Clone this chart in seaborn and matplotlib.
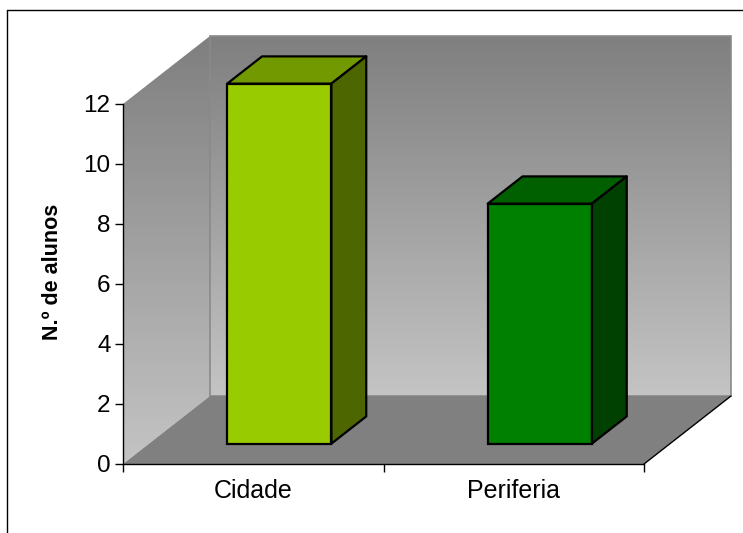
import numpy as np
import matplotlib
matplotlib.use("Agg")
import matplotlib.pyplot as plt
from matplotlib.patches import Polygon
from matplotlib.lines import Line2D
from matplotlib.colors import LinearSegmentedColormap
import seaborn as sns

# Data
categories = ["Cidade", "Periferia"]
alunos = [12, 8]
y_ticks = [0, 2, 4, 6, 8, 10, 12]
y_label = "N.º de alunos"

# Face colours (front, top, side) for each bar
front_colors = ["#99CC00", "#008000"]
top_colors = ["#739900", "#006000"]
side_colors = ["#4D6600", "#004000"]

sns.set_theme(style="white")
plt.rcParams["font.family"] = ["Liberation Sans", "DejaVu Sans"]

W, H = 743, 533
fig = plt.figure(figsize=(W / 100, H / 100), dpi=100)

# Plot area in pixels
left_px, right_px, bottom_px, top_px = 123, 740, 464, 28
px_per_x = 260.5      # pixels per category unit
px_per_y = 30.0       # pixels per value unit
ax = fig.add_axes([left_px / W, (H - bottom_px) / H,
                   (right_px - left_px) / W, (bottom_px - top_px) / H])
ax.patch.set_alpha(0)

# 3D depth vector (data units) and bar depth fractions
DX, DY = 87 / px_per_x, 68 / px_per_y
f1, f2 = 0.3, 0.7
x0, x1 = -0.5, len(categories) - 0.5
ymax = max(y_ticks)

gray_cmap = LinearSegmentedColormap.from_list("wall", ["#7f7f7f", "#c4c4c4"])
grad = np.linspace(0, 1, 256).reshape(-1, 1)

# Left wall (gradient)
lw_poly = Polygon([(x0, 0), (x0, ymax), (x0 + DX, ymax + DY), (x0 + DX, DY)],
                  closed=True, facecolor="none", edgecolor="none")
ax.add_patch(lw_poly)
im = ax.imshow(grad, cmap=gray_cmap, aspect="auto",
               extent=[x0, x0 + DX, 0, ymax + DY], origin="upper",
               zorder=0.5, interpolation="bilinear")
im.set_clip_path(lw_poly)

# Back wall (gradient)
ax.imshow(grad, cmap=gray_cmap, aspect="auto",
          extent=[x0 + DX, x1 + DX, DY, ymax + DY], origin="upper",
          zorder=0.5, interpolation="bilinear")
ax.add_patch(Polygon([(x0 + DX, DY), (x0 + DX, ymax + DY), (x1 + DX, ymax + DY),
                      (x1 + DX, DY)], closed=True, facecolor="none",
                     edgecolor="#8a8a8a", lw=1.2, zorder=0.6))

# Floor
ax.add_patch(Polygon([(x0, 0), (x1, 0), (x1 + DX, DY), (x0 + DX, DY)],
                     closed=True, facecolor="#808080", edgecolor="none", zorder=0.7))
ax.plot([x1, x1 + DX], [0, DY], color="black", lw=1.0, zorder=0.8)

# Front faces through seaborn
sns.barplot(x=categories, y=alunos, hue=categories, palette=front_colors,
            saturation=1, width=0.4, edgecolor="black", linewidth=1.6,
            legend=False, ax=ax, zorder=2)

d_x, d_y = (f2 - f1) * DX, (f2 - f1) * DY
for i, p in enumerate(ax.patches[-len(categories):]):
    p.set_x(p.get_x() + f1 * DX)
    p.set_y(p.get_y() + f1 * DY)
    p.set_zorder(3)
    bx0, bx1 = p.get_x(), p.get_x() + p.get_width()
    by0, by1 = p.get_y(), p.get_y() + p.get_height()
    top = Polygon([(bx0, by1), (bx1, by1), (bx1 + d_x, by1 + d_y), (bx0 + d_x, by1 + d_y)],
                  closed=True, facecolor=top_colors[i], edgecolor="black",
                  lw=1.6, joinstyle="round", zorder=3)
    side = Polygon([(bx1, by0), (bx1, by1), (bx1 + d_x, by1 + d_y), (bx1 + d_x, by0 + d_y)],
                   closed=True, facecolor=side_colors[i], edgecolor="black",
                   lw=1.6, joinstyle="round", zorder=3)
    ax.add_patch(top)
    ax.add_patch(side)

ax.set_xlim(-0.5, -0.5 + (right_px - left_px) / px_per_x)
ax.set_ylim(0, (bottom_px - top_px) / px_per_y)

# Axes styling
for s in ["top", "right"]:
    ax.spines[s].set_visible(False)
ax.spines["left"].set_bounds(0, ymax)
ax.spines["bottom"].set_bounds(x0, x1)
for s in ["left", "bottom"]:
    ax.spines[s].set_color("black")
    ax.spines[s].set_linewidth(1.0)
    ax.spines[s].set_zorder(1)

ax.set_yticks(y_ticks)
ax.set_yticklabels([str(t) for t in y_ticks])
ax.set_xticks(range(len(categories)))
ax.set_xticklabels(categories)
ax.set_xticks(np.arange(x0, x1 + 0.01, 1.0), minor=True)
ax.tick_params(axis="y", which="major", length=6, width=1, color="black",
               direction="out", left=True, labelsize=17.5, pad=3, labelcolor="black")
ax.tick_params(axis="x", which="major", length=0, labelsize=18, pad=11,
               labelcolor="black")
ax.tick_params(axis="x", which="minor", length=6, width=1, color="black",
               direction="out", bottom=True)
ax.set_xlabel("")
ax.set_ylabel(y_label, fontsize=15.5, fontweight="bold", color="black")
ax.yaxis.set_label_coords((63 - left_px) / (right_px - left_px),
                          (bottom_px - 271.5) / (bottom_px - top_px))

# Chart frame
fig.add_artist(Line2D([7 / W, 1], [1 - 10 / H, 1 - 10 / H], color="black", lw=1.0,
                      transform=fig.transFigure))
fig.add_artist(Line2D([7 / W, 7 / W], [0, 1 - 10 / H], color="black", lw=1.0,
                      transform=fig.transFigure))

fig.savefig("out.png", dpi=100)
